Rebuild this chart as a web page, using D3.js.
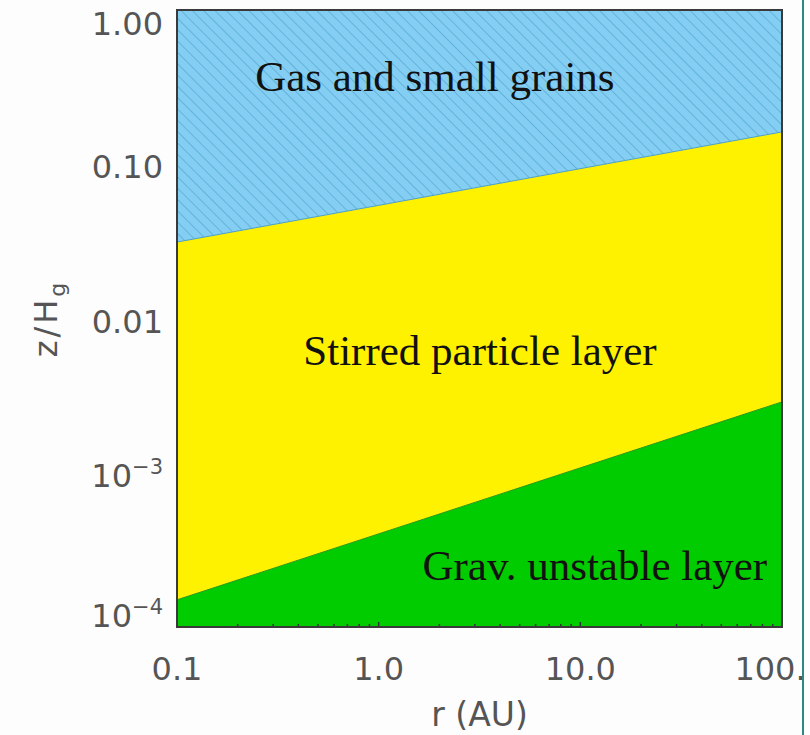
<!DOCTYPE html>
<html>
<head>
<meta charset="utf-8">
<script src="https://cdn.jsdelivr.net/npm/d3@7"></script>
<style>
  html, body { margin: 0; padding: 0; background: #fdfdfd; }
  svg { display: block; }
</style>
</head>
<body>
<svg id="chart" width="810" height="735"></svg>
<script>
// ---- data ----
const rDomain = [0.1, 100];                 // r (AU)
const zDomain = [1e-4, 1];                  // z/Hg
const boundaryR = [0.1, 100];               // r at which boundaries are read
const upperBoundary = [0.0313, 0.162];      // gas & small grains / stirred layer
const lowerBoundary = [1.50e-4, 2.88e-3];   // stirred layer / grav. unstable layer
const xTickValues = [0.1, 1, 10, 100];
const xTickLabels = ["0.1", "1.0", "10.0", "100."];
const yTickValues = [1, 0.1, 0.01, 1e-3, 1e-4];
const yTickLabels = [["1.00", null], ["0.10", null], ["0.01", null], ["10", "\u22123"], ["10", "\u22124"]];
const regionLabels = ["Gas and small grains", "Stirred particle layer", "Grav. unstable layer"];
const regionLabelPos = [[1.90, 0.30], [3.18, 0.0050], [11.8, 2.02e-4]]; // [r, z] centre of text baseline

// ---- layout ----
const svg = d3.select("#chart");
const L = 177, R = 782, T = 10, B = 627;
const x = d3.scaleLog().domain(rDomain).range([L, R]);
const y = d3.scaleLog().domain(zDomain).range([B, T]);

const defs = svg.append("defs");
const pat = defs.append("pattern")
  .attr("id", "hatch").attr("patternUnits", "userSpaceOnUse")
  .attr("width", 8).attr("height", 8)
  .attr("patternTransform", "rotate(-45)");
pat.append("rect").attr("width", 8).attr("height", 8).attr("fill", "#85cef3");
pat.append("line").attr("x1", 0).attr("y1", 0).attr("x2", 0).attr("y2", 8)
  .attr("stroke", "#5eb0d8").attr("stroke-width", 1.8);

defs.append("clipPath").attr("id", "plotclip")
  .append("rect").attr("x", L).attr("y", T).attr("width", R - L).attr("height", B - T);

const g = svg.append("g").attr("clip-path", "url(#plotclip)");
const pts = boundaryR.map((r, i) => ({ r, up: upperBoundary[i], lo: lowerBoundary[i] }));

// blue region
g.append("path").datum(pts)
  .attr("d", d3.area().x(d => x(d.r)).y0(d => y(d.up)).y1(() => y(zDomain[1])))
  .attr("fill", "url(#hatch)");
// yellow region
g.append("path").datum(pts)
  .attr("d", d3.area().x(d => x(d.r)).y0(d => y(d.lo)).y1(d => y(d.up)))
  .attr("fill", "#fff200");
// green region
g.append("path").datum(pts)
  .attr("d", d3.area().x(d => x(d.r)).y0(() => y(zDomain[0])).y1(d => y(d.lo)))
  .attr("fill", "#00cc00");

// boundary lines (thin)
g.append("path").datum(pts).attr("fill", "none").attr("stroke", "#4a9fc8").attr("stroke-width", 1)
  .attr("d", d3.line().x(d => x(d.r)).y(d => y(d.up)));
g.append("path").datum(pts).attr("fill", "none").attr("stroke", "#2a9a1a").attr("stroke-width", 1)
  .attr("d", d3.line().x(d => x(d.r)).y(d => y(d.lo)));

// region labels
regionLabels.forEach((t, i) => {
  svg.append("text")
    .attr("x", x(regionLabelPos[i][0])).attr("y", y(regionLabelPos[i][1]))
    .attr("text-anchor", "middle")
    .attr("font-family", "'Liberation Serif', 'Times New Roman', serif")
    .attr("font-size", 43).attr("fill", "#111")
    .text(t);
});

// minor ticks on bottom axis
const minor = [];
for (let d = 0.1; d < 100; d *= 10) for (let k = 2; k <= 9; k++) minor.push(d * k);

svg.append("g").selectAll("line").data(minor).join("line")
  .attr("x1", d => x(d)).attr("x2", d => x(d)).attr("y1", B).attr("y2", B - 3)
  .attr("stroke", "#333").attr("stroke-width", 1.5);
svg.append("g").selectAll("line").data(xTickValues).join("line")
  .attr("x1", d => x(d)).attr("x2", d => x(d)).attr("y1", B).attr("y2", B - 5)
  .attr("stroke", "#333").attr("stroke-width", 1.5);

// frame
svg.append("rect").attr("x", L).attr("y", T).attr("width", R - L).attr("height", B - T)
  .attr("fill", "none").attr("stroke", "#3a3a3a").attr("stroke-width", 2);

// tick labels
const tickFont = "'DejaVu Sans', sans-serif";
const tickColor = "#555";
const xl = svg.append("g");
xTickValues.forEach((v, i) => {
  xl.append("text").attr("x", x(v) + (i === xTickValues.length - 1 ? -12 : 0)).attr("y", 680)
    .attr("text-anchor", "middle").attr("font-family", tickFont).attr("font-size", 32)
    .attr("fill", tickColor).text(xTickLabels[i]);
});
const yOff = [25, 14, 14, 14, 0];
yTickValues.forEach((v, i) => {
  const t = svg.append("text").attr("x", 163).attr("y", y(v) + yOff[i])
    .attr("text-anchor", "end").attr("font-family", tickFont).attr("font-size", 32)
    .attr("fill", tickColor);
  t.append("tspan").text(yTickLabels[i][0]);
  if (yTickLabels[i][1]) {
    t.append("tspan").attr("dy", -13).attr("font-size", 21).text(yTickLabels[i][1]);
  }
});

// axis titles
svg.append("text").attr("x", (L + R) / 2).attr("y", 726).attr("text-anchor", "middle")
  .attr("font-family", tickFont).attr("font-size", 33).attr("fill", tickColor)
  .text("r  (AU)");
const yt = svg.append("text").attr("transform", `translate(57,${(T + B) / 2}) rotate(-90)`)
  .attr("text-anchor", "middle").attr("font-family", tickFont).attr("font-size", 32)
  .attr("letter-spacing", 3).attr("fill", tickColor);
yt.append("tspan").text("z/H");
yt.append("tspan").attr("dy", 8).attr("font-size", 22).text("g");

// right slide border
svg.append("rect").attr("x", 804).attr("y", 0).attr("width", 6).attr("height", 735).attr("fill", "#ffffff");
svg.append("line").attr("x1", 803).attr("x2", 803).attr("y1", 0).attr("y2", 735)
  .attr("stroke", "#2e8a80").attr("stroke-width", 2);
</script>
</body>
</html>
